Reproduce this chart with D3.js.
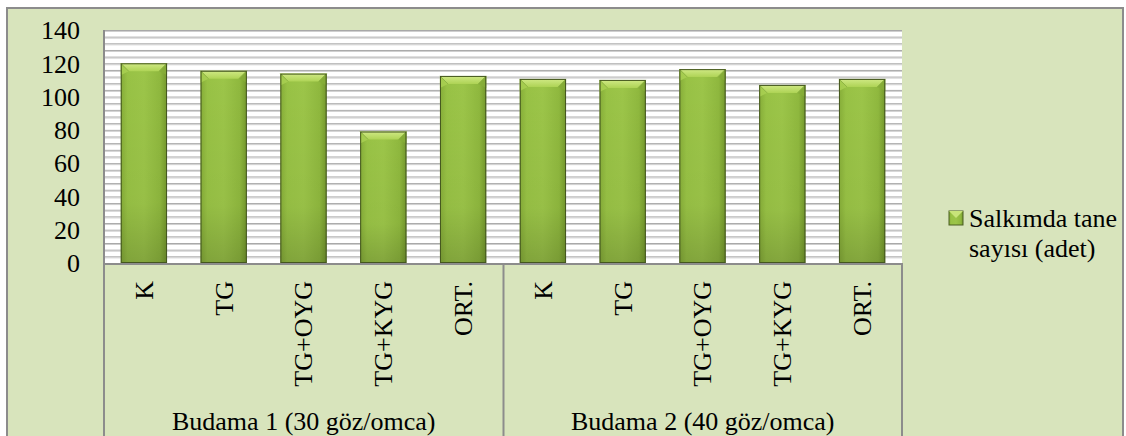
<!DOCTYPE html>
<html><head><meta charset="utf-8">
<script src="https://cdn.jsdelivr.net/npm/d3@7"></script>
<style>body{margin:0;background:#fff}svg{display:block}text{font-family:"Liberation Serif","Times New Roman",serif;fill:#000}</style>
</head><body><svg id="c" width="1126" height="436" font-family="Liberation Serif"></svg>
<script>
const groups = ["Budama 1 (30 göz/omca)", "Budama 2 (40 göz/omca)"];
const treatments = ["K", "TG", "TG+OYG", "TG+KYG", "ORT."];
const valuesBudama1 = [120, 115.5, 113.8, 79, 112.4];
const valuesBudama2 = [110.6, 110, 116.5, 107, 110.6];
const yTicks = [0, 20, 40, 60, 80, 100, 120, 140];
const seriesName = ["Salkımda tane", "sayısı (adet)"];

const rows = [];
groups.forEach((g, gi) => {
  const vals = gi === 0 ? valuesBudama1 : valuesBudama2;
  treatments.forEach((t, ti) => rows.push({key: gi + "|" + t, group: g, label: t, value: vals[ti]}));
});

const svg = d3.select("#c");
const L = 104, R = 902, T = 30, B = 263;
const y = d3.scaleLinear().domain([0, 140]).range([B, T]);
const x = d3.scaleBand().domain(rows.map(d => d.key)).range([L, R]).paddingInner(0.42).paddingOuter(0.21);

const defs = svg.append("defs");
const gH = defs.append("linearGradient").attr("id", "barH").attr("x1", 0).attr("x2", 1).attr("y1", 0).attr("y2", 0);
[["0", "#86ad38"], ["0.15", "#98c245"], ["0.5", "#9cc549"], ["0.85", "#8fb83e"], ["1", "#74982d"]].forEach(s => gH.append("stop").attr("offset", s[0]).attr("stop-color", s[1]));
const gV = defs.append("linearGradient").attr("id", "barV").attr("x1", 0).attr("x2", 0).attr("y1", 0).attr("y2", 1);
[["0", "#000", 0], ["0.7", "#000", 0.03], ["1", "#000", 0.16]].forEach(s => gV.append("stop").attr("offset", s[0]).attr("stop-color", s[1]).attr("stop-opacity", s[2]));
const gTop = defs.append("linearGradient").attr("id", "barTop").attr("x1", 0).attr("x2", 0).attr("y1", 0).attr("y2", 1);
[["0", "#d0e985"], ["1", "#aed355"]].forEach(s => gTop.append("stop").attr("offset", s[0]).attr("stop-color", s[1]));

// chart background
svg.append("rect").attr("x", 7).attr("y", 8).attr("width", 1116).attr("height", 440)
  .attr("fill", "#d8e4bc").attr("stroke", "#8c8c8c").attr("stroke-width", 2);

// plot area
svg.append("rect").attr("x", L).attr("y", T).attr("width", R - L).attr("height", B - T).attr("fill", "#fff");
const stripes = d3.range(0, 141, 4);
svg.append("g").selectAll("line").data(stripes).join("line")
  .attr("x1", L).attr("x2", R).attr("y1", d => y(d) + 0.5).attr("y2", d => y(d) + 0.5)
  .attr("stroke", "#a8a8a8").attr("stroke-width", 1);
svg.append("g").selectAll("line").data(stripes).join("line")
  .attr("x1", L).attr("x2", R).attr("y1", d => y(d) + 1.5).attr("y2", d => y(d) + 1.5)
  .attr("stroke", "#cfcfcf").attr("stroke-width", 1);

// bars
const bars = svg.append("g").selectAll("g").data(rows).join("g");
bars.append("rect").attr("x", d => x(d.key)).attr("y", d => y(d.value))
  .attr("width", x.bandwidth()).attr("height", d => y(0) - y(d.value)).attr("fill", "url(#barH)");
bars.append("rect").attr("x", d => x(d.key)).attr("y", d => y(d.value))
  .attr("width", x.bandwidth()).attr("height", d => y(0) - y(d.value)).attr("fill", "url(#barV)");
const bv = 8;
bars.append("path").attr("d", d => {
  const x0 = x(d.key), x1 = x0 + x.bandwidth(), y0 = y(d.value);
  return `M${x0},${y0}L${x1},${y0}L${x1 - bv},${y0 + bv}L${x0 + bv},${y0 + bv}Z`;
}).attr("fill", "url(#barTop)");
bars.append("path").attr("d", d => {
  const x0 = x(d.key), x1 = x0 + x.bandwidth(), y0 = y(d.value);
  return `M${x1},${y0}L${x1},${y0 + bv + 4}L${x1 - bv},${y0 + bv}Z`;
}).attr("fill", "#86ad38").attr("opacity", 0.85);
bars.append("path").attr("d", d => {
  const x0 = x(d.key), y0 = y(d.value);
  return `M${x0},${y0}L${x0},${y0 + bv + 4}L${x0 + bv},${y0 + bv}Z`;
}).attr("fill", "#a9d052").attr("opacity", 0.85);
bars.append("path").attr("d", d => {
  const x0 = x(d.key), x1 = x0 + x.bandwidth(), y0 = y(d.value);
  return `M${x0},${y0}L${x0 + bv},${y0 + bv}M${x1},${y0}L${x1 - bv},${y0 + bv}`;
}).attr("stroke", "#8fb544").attr("stroke-width", 1).attr("fill", "none");
bars.append("rect").attr("x", d => x(d.key) + 0.5).attr("y", d => y(d.value) + 0.5)
  .attr("width", x.bandwidth() - 1).attr("height", d => y(0) - y(d.value) - 1)
  .attr("fill", "none").attr("stroke", "#44561f").attr("stroke-width", 1);

// value axis line
svg.append("line").attr("x1", L).attr("x2", L).attr("y1", T).attr("y2", 448).attr("stroke", "#8c8c8c").attr("stroke-width", 2);
// category axis
svg.append("line").attr("x1", L).attr("x2", R).attr("y1", B + 1).attr("y2", B + 1).attr("stroke", "#8c8c8c").attr("stroke-width", 2);
const groupBounds = [L, (L + R) / 2 + 0.5, R];
svg.append("g").selectAll("line").data(groupBounds.slice(1)).join("line")
  .attr("x1", d => d).attr("x2", d => d).attr("y1", B).attr("y2", 448)
  .attr("stroke", "#8c8c8c").attr("stroke-width", 2);

// y axis labels
const yAxis = d3.axisLeft(y).tickValues(yTicks).tickSize(0).tickPadding(0);
const ya = svg.append("g").attr("transform", "translate(80,0)").call(yAxis);
ya.select(".domain").remove();
ya.attr("font-family", "Liberation Serif");
ya.selectAll("text").attr("font-size", 26).attr("font-family", "Liberation Serif").attr("fill", "#000").attr("dy", "0.34em");

// category labels (rotated)
svg.append("g").selectAll("text").data(rows).join("text")
  .attr("transform", d => `translate(${x(d.key) + x.bandwidth() / 2},281) rotate(-90)`)
  .attr("text-anchor", "end").attr("dy", "0.34em").attr("font-size", 26).text(d => d.label);

// group labels
svg.append("g").selectAll("text").data(groups).join("text")
  .attr("x", (d, i) => (groupBounds[i] + groupBounds[i + 1]) / 2).attr("y", 430)
  .attr("text-anchor", "middle").attr("font-size", 26).text(d => d);

// legend
const lg = svg.append("g");
lg.append("rect").attr("x", 949).attr("y", 211).attr("width", 14).attr("height", 14).attr("fill", "url(#barH)").attr("stroke", "#4b5e22");
lg.append("path").attr("d", "M949,211L963,211L956,218Z").attr("fill", "#c8e47a");
lg.append("text").attr("x", 969).attr("font-size", 26).selectAll("tspan").data(seriesName).join("tspan")
  .attr("x", 969).attr("y", (d, i) => 227 + i * 30).text(d => d);
</script></body></html>
